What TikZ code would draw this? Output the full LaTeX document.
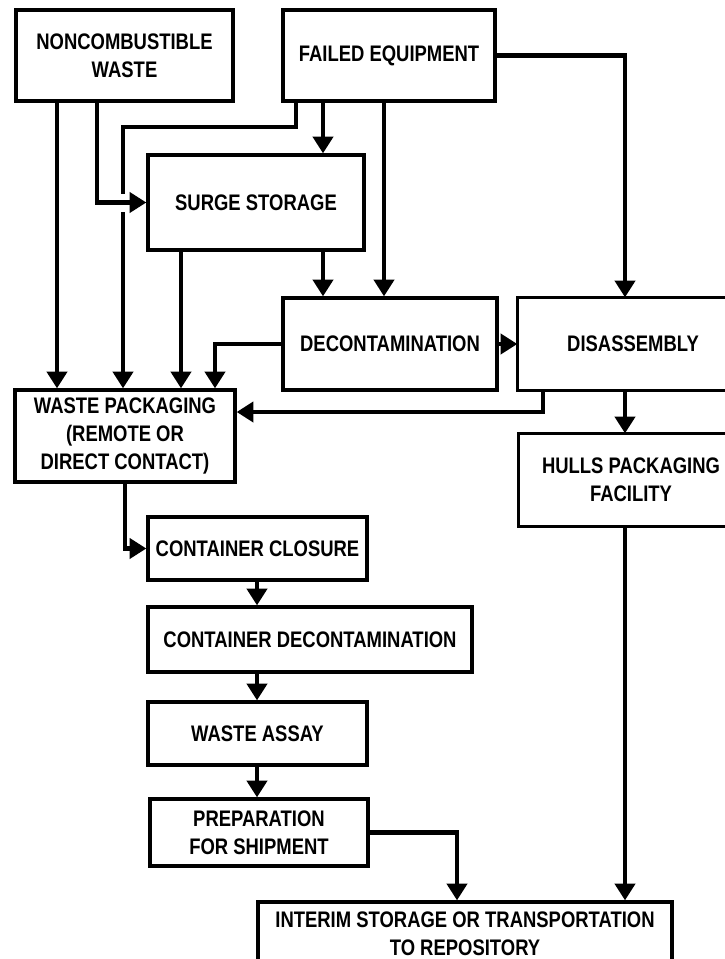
\documentclass[tikz,border=0pt]{standalone}
\usepackage{fontspec}
\newfontfamily\boxfont{Liberation Sans}[FakeStretch=0.82]
\usetikzlibrary{arrows.meta}
\begin{document}
\begin{tikzpicture}[x=0.025cm,y=-0.025cm,
  box/.style={draw, line width=2.3pt, inner sep=0pt, align=center,
    font=\boxfont\bfseries\fontsize{16}{20}\selectfont},
  openbox/.style={box, draw=none},
  edge/.style={line width=2.3pt},
  arr/.style={line width=3pt, -{Triangle[length=0.42cm,width=0.5cm]}}]
\path[use as bounding box, fill=white] (0,0) rectangle (724,959);
% boxes
\node[box, minimum width=5.425cm, minimum height=2.275cm] (nc) at (124.5,55.5) {NONCOMBUSTIBLE\\WASTE};
\node[box, minimum width=5.3cm, minimum height=2.275cm] (fe) at (389,55.5) {FAILED EQUIPMENT};
\node[box, minimum width=5.4cm, minimum height=2.375cm] (ss) at (256,202.5) {SURGE STORAGE};
\node[box, minimum width=5.35cm, minimum height=2.3cm] (dc) at (390,344) {DECONTAMINATION};
\node[openbox, minimum width=5.7cm, minimum height=2.25cm] (da) at (633,344) {DISASSEMBLY};
\node[box, minimum width=5.5cm, minimum height=2.3cm] (wp) at (125,436) {WASTE PACKAGING\\(REMOTE OR\\DIRECT CONTACT)};
\node[openbox, minimum width=5.55cm, minimum height=2.25cm] (hp) at (631,480) {HULLS PACKAGING\\FACILITY};
\node[box, minimum width=5.475cm, minimum height=1.575cm] (cc) at (257.5,548.5) {CONTAINER CLOSURE};
\node[box, minimum width=8.1cm, minimum height=1.625cm] (cd) at (310,639.5) {CONTAINER DECONTAMINATION};
\node[box, minimum width=5.475cm, minimum height=1.575cm] (wa) at (257.5,733.5) {WASTE ASSAY};
\node[box, minimum width=5.45cm, minimum height=1.675cm] (ps) at (259,832.5) {PREPARATION\\FOR SHIPMENT};
\node[box, minimum width=10.35cm, minimum height=1.6cm] (is) at (465,934) {INTERIM STORAGE OR TRANSPORTATION\\TO REPOSITORY};
% boxes cut by the right edge of the picture: three sides only
\draw[edge] ([xshift=1cm]da.north east) -- (da.north west) -- (da.south west) -- ([xshift=1cm]da.south east);
\draw[edge] ([xshift=1cm]hp.north east) -- (hp.north west) -- (hp.south west) -- ([xshift=1cm]hp.south east);
% helper coordinates
\coordinate (xa) at (57,0);
\coordinate (xb) at (97,0);
\coordinate (xc) at (123,0);
\coordinate (xd) at (181,0);
\coordinate (xe) at (215,0);
\coordinate (xf) at (296,0);
\coordinate (xg) at (323,0);
\coordinate (xh) at (384,0);
\coordinate (xi) at (625,0);
\coordinate (xj) at (543,0);
\coordinate (xk) at (125,0);
\coordinate (xl) at (257,0);
\coordinate (xm) at (457,0);
\coordinate (yb) at (0,127);
\coordinate (ye) at (0,412);
% connectors
\draw[arr] (nc.south -| xa) -- (wp.north -| xa);
\draw[arr] (fe.south -| xf) |- (xc |- yb) -- (wp.north -| xc);
\fill[white] (117,194) rectangle (129,212);
\draw[arr] (nc.south -| xb) |- (ss.west);
\draw[arr] (fe.south -| xg) -- (ss.north -| xg);
\draw[arr] (fe.south -| xh) -- (dc.north -| xh);
\draw[arr] (fe.east) -| (da.north -| xi);
\draw[arr] (ss.south -| xd) -- (wp.north -| xd);
\draw[arr] (ss.south -| xg) -- (dc.north -| xg);
\draw[arr] (dc.west) -| (wp.north -| xe);
\draw[arr] (dc.east) -- (da.west);
\draw[arr] (da.south -| xj) |- (wp.east |- ye);
\draw[arr] (da.south -| xi) -- (hp.north -| xi);
\draw[arr] (hp.south -| xi) -- (is.north -| xi);
\draw[arr] (wp.south -| xk) |- (cc.west);
\draw[arr] (cc.south -| xl) -- (cd.north -| xl);
\draw[arr] (cd.south -| xl) -- (wa.north -| xl);
\draw[arr] (wa.south -| xl) -- (ps.north -| xl);
\draw[arr] (ps.east) -| (is.north -| xm);
\end{tikzpicture}
\end{document}
